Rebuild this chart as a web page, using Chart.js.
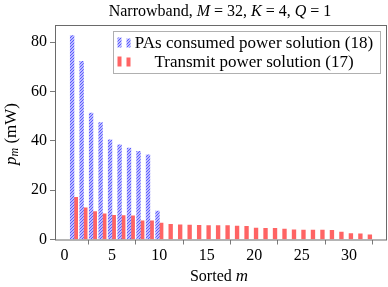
<!DOCTYPE html>
<html>
<head>
<meta charset="utf-8">
<script src="https://cdn.jsdelivr.net/npm/chart.js@4.4.1/dist/chart.umd.min.js"></script>
<style>
  html, body { margin: 0; padding: 0; background: #fff; }
  #wrap { width: 388px; height: 287px; }
</style>
</head>
<body>
<div id="wrap"><canvas id="chart" width="388" height="287"></canvas></div>
<script>
// sorted index m
const mValues = [];
for (let i = 1; i <= 32; i++) mValues.push(i);

// PAs consumed power solution (18), only the first 10 are non zero
const consumedPower = [82.7, 72.3, 51.3, 47.4, 40.4, 38.4, 37.1, 35.8, 34.3, 11.5];

// Transmit power solution (17)
const transmitPower = [17.1, 12.8, 11.3, 10.4, 9.8, 9.7, 9.6, 7.6, 7.6, 6.7,
  6.2, 6.0, 5.8, 5.7, 5.6, 5.6, 5.6, 5.4, 5.3, 4.6,
  4.5, 4.5, 4.2, 3.9, 3.8, 3.8, 3.8, 3.7, 3.0, 2.4, 2.3, 1.9];

const xTicks = [0, 5, 10, 15, 20, 25, 30];
const yTicks = [0, 20, 40, 60, 80];

const serif = '"Liberation Serif", "DejaVu Serif", serif';
const blue = 'rgb(85,85,255)';
const red = 'rgb(255,100,100)';

// hatch pattern (north east lines) for the blue bars
function makeHatch() {
  const c = document.createElement('canvas');
  c.width = 3; c.height = 3;
  const g = c.getContext('2d');
  g.fillStyle = '#eeeeff';
  g.fillRect(0, 0, 3, 3);
  g.strokeStyle = blue;
  g.lineWidth = 1.2;
  g.beginPath();
  g.moveTo(-1, 4); g.lineTo(4, -1);
  g.moveTo(-1, 1); g.lineTo(1, -1);
  g.moveTo(2, 4); g.lineTo(4, 2);
  g.stroke();
  return document.getElementById('chart').getContext('2d').createPattern(c, 'repeat');
}
const hatch = makeHatch();

// draw a line of text made of normal / italic pieces
function drawPieces(ctx, pieces, cx, cy) {
  let total = 0;
  pieces.forEach(p => {
    ctx.font = (p.it ? 'italic ' : '') + p.size + 'px ' + serif;
    p.w = ctx.measureText(p.t).width;
    total += p.w;
  });
  let x = cx - total / 2;
  ctx.textAlign = 'left';
  ctx.textBaseline = 'middle';
  pieces.forEach(p => {
    ctx.font = (p.it ? 'italic ' : '') + p.size + 'px ' + serif;
    ctx.fillText(p.t, x, cy + (p.dy || 0));
    x += p.w;
  });
}

const decorations = {
  id: 'decorations',
  afterDraw(chart) {
    const ctx = chart.ctx;
    const a = chart.chartArea;
    ctx.save();
    // axis box
    ctx.strokeStyle = '#6a6a6a';
    ctx.lineWidth = 1;
    ctx.strokeRect(a.left + 0.5, a.top + 0.5, a.right - a.left - 1, a.bottom - a.top);
    ctx.fillStyle = '#000';

    // title
    drawPieces(ctx, [
      { t: 'Narrowband, ', size: 16 },
      { t: 'M', size: 16, it: true },
      { t: ' = 32, ', size: 16 },
      { t: 'K', size: 16, it: true },
      { t: ' = 4, ', size: 16 },
      { t: 'Q', size: 16, it: true },
      { t: ' = 1', size: 16 }
    ], 220, 12);

    // x axis title
    drawPieces(ctx, [
      { t: 'Sorted ', size: 16 },
      { t: 'm', size: 17, it: true }
    ], 219, 277);

    // y axis title
    ctx.save();
    ctx.translate(12, 134);
    ctx.rotate(-Math.PI / 2);
    drawPieces(ctx, [
      { t: 'p', size: 17, it: true },
      { t: 'm', size: 12, it: true, dy: 3 },
      { t: ' (mW)', size: 17 }
    ], 0, 0);
    ctx.restore();

    // legend
    const lx = 113, ly = 31, lw = 267, lh = 42;
    ctx.fillStyle = '#fff';
    ctx.fillRect(lx, ly, lw, lh);
    ctx.strokeStyle = '#b0b0b0';
    ctx.strokeRect(lx + 0.5, ly + 0.5, lw, lh);
    const rows = [
      { fill: hatch, label: 'PAs consumed power solution (18)', y: 42.5 },
      { fill: red, label: 'Transmit power solution (17)', y: 61.5 }
    ];
    rows.forEach(r => {
      ctx.fillStyle = r.fill;
      ctx.fillRect(117.5, r.y - 5, 4, 10);
      ctx.fillRect(126.5, r.y - 4, 4, 9);
      ctx.fillStyle = '#000';
      ctx.font = '17px ' + serif;
      ctx.textAlign = 'center';
      ctx.textBaseline = 'middle';
      ctx.fillText(r.label, 254, r.y + 1);
    });
    ctx.restore();
  }
};

new Chart(document.getElementById('chart'), {
  type: 'bar',
  plugins: [decorations],
  data: {
    datasets: [
      {
        label: 'PAs consumed power solution (18)',
        data: consumedPower.map((v, i) => ({ x: mValues[i] - 0.195, y: v })),
        backgroundColor: hatch,
        borderWidth: 0,
        barThickness: 3.7,
        grouped: false
      },
      {
        label: 'Transmit power solution (17)',
        data: transmitPower.map((v, i) => ({ x: mValues[i] + 0.195, y: v })),
        backgroundColor: red,
        borderWidth: 0,
        barThickness: 3.7,
        grouped: false
      }
    ]
  },
  options: {
    responsive: false,
    animation: false,
    layout: { padding: { top: 25, right: 1, left: 0, bottom: 0 } },
    plugins: {
      legend: { display: false },
      tooltip: { enabled: false },
      title: { display: false }
    },
    scales: {
      x: {
        type: 'linear',
        min: -1,
        max: 34,
        offset: false,
        afterBuildTicks: s => { s.ticks = xTicks.map(v => ({ value: v })); },
        afterFit: s => { s.height = 47.5; },
        grid: { drawOnChartArea: false, drawTicks: true, tickLength: 5, color: '#7a7a7a' },
        border: { display: false },
        ticks: { color: '#000', font: { family: serif, size: 16 }, padding: 2, maxRotation: 0 }
      },
      y: {
        min: 0,
        max: 87,
        afterBuildTicks: s => { s.ticks = yTicks.map(v => ({ value: v })); },
        afterFit: s => { s.width = 55; },
        grid: { drawOnChartArea: false, drawTicks: true, tickLength: 5, color: '#7a7a7a' },
        border: { display: false },
        ticks: { color: '#000', font: { family: serif, size: 16 }, padding: 3 }
      }
    }
  }
});
</script>
</body>
</html>
